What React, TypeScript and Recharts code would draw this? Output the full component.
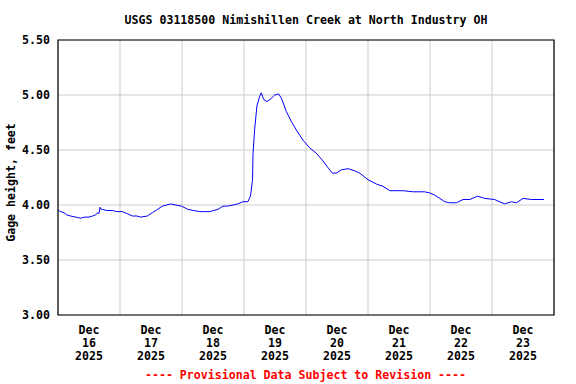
import React from 'react'
import { LineChart, Line, XAxis, YAxis, CartesianGrid, ReferenceArea } from 'recharts'

// hours since Dec 16 2025 00:00, gage height in feet
const hours = [
  0.2, 1.0, 2.3, 3.4, 4.9, 6.9, 8.8, 10.3, 12.0, 13.4, 14.6, 15.3, 15.8, 16.3, 16.7,
  17.2, 18.9, 21.1, 22.7, 24.9, 26.9, 28.8, 30.5, 32.0, 34.6, 36.5, 38.5, 40.4,
  42.1, 43.6, 45.6, 47.8, 50.3, 52.5, 54.9, 56.8, 58.7, 60.3, 61.9, 63.9, 65.7,
  67.7, 69.6, 71.6, 73.5, 74.5, 75.3, 75.5, 76.1, 77.0, 78.1, 78.7, 79.6, 80.9,
  82.6, 83.9, 85.4, 86.5, 88.4, 90.3, 92.3, 94.8, 97.4, 100.0, 102.6, 104.5,
  106.2, 107.8, 109.7, 112.3, 114.9, 116.8, 120.0, 123.3, 125.8, 128.4, 133.6,
  137.4, 141.9, 143.9, 145.8, 147.8, 149.7, 151.6, 154.2, 156.8, 159.4, 162.4,
  165.2, 169.0, 172.9, 175.5, 177.5, 180.0, 183.3, 185.8, 188.1,
]
const gage = [
  3.95, 3.94, 3.93, 3.91, 3.9, 3.89, 3.88, 3.89, 3.89, 3.9, 3.91, 3.93, 3.92, 3.98, 3.96,
  3.96, 3.95, 3.95, 3.94, 3.94, 3.92, 3.9, 3.9, 3.89, 3.9, 3.93, 3.96, 3.99,
  4.0, 4.01, 4.0, 3.99, 3.96, 3.95, 3.94, 3.94, 3.94, 3.95, 3.96, 3.99, 3.99,
  4.0, 4.01, 4.03, 4.03, 4.08, 4.23, 4.47, 4.68, 4.9, 4.99, 5.02, 4.96, 4.94,
  4.97, 5.0, 5.01, 4.97, 4.85, 4.76, 4.68, 4.59, 4.52, 4.47, 4.4, 4.34,
  4.29, 4.29, 4.32, 4.33, 4.31, 4.29, 4.23, 4.19, 4.17, 4.13, 4.13,
  4.12, 4.12, 4.11, 4.09, 4.06, 4.03, 4.02, 4.02, 4.05, 4.05, 4.08,
  4.06, 4.05, 4.01, 4.03, 4.02, 4.06, 4.05, 4.05, 4.05,
]

const dayLabels = ['16', '17', '18', '19', '20', '21', '22', '23']
const midnightTicks = [0, 24, 48, 72, 96, 120, 144, 168, 192]
const noonTicks = [12, 36, 60, 84, 108, 132, 156, 180]
const yTicks = [3.0, 3.5, 4.0, 4.5, 5.0, 5.5]

const data = hours.map((h, i) => ({ h, gage: gage[i] }))

const font = '"DejaVu Sans Mono", monospace'

function DayTick({ x, y, index }: any) {
  return (
    <text x={x} textAnchor="middle" fontFamily={font} fontWeight="bold" fontSize={11.6} fill="#000">
      <tspan x={x} y={y - 19}>Dec</tspan>
      <tspan x={x} y={y - 6}>{dayLabels[index]}</tspan>
      <tspan x={x} y={y + 7}>2025</tspan>
    </text>
  )
}

function YLabel({ viewBox }: any) {
  const cy = viewBox.y + viewBox.height / 2 + 5
  return (
    <text
      x={15}
      y={cy}
      transform={`rotate(-90, 15, ${cy})`}
      textAnchor="middle"
      fontFamily={font}
      fontWeight="bold"
      fontSize={11.6}
      fill="#000"
    >
      Gage height, feet
    </text>
  )
}

export default function App() {
  return (
    <div style={{ position: 'absolute', left: 0, top: 0, width: 576, height: 384, background: '#fff' }}>
      <LineChart width={576} height={384} data={data} margin={{ top: 40, right: 22, bottom: 0, left: 0 }}>
        <CartesianGrid xAxisId="days" stroke="#cccccc" strokeWidth={1} />
        <XAxis xAxisId="days" type="number" dataKey="h" domain={[0, 192]} ticks={midnightTicks} hide />
        <XAxis
          xAxisId="noon"
          type="number"
          dataKey="h"
          domain={[0, 192]}
          ticks={noonTicks}
          interval={0}
          tick={<DayTick />}
          tickLine={false}
          axisLine={false}
          height={69}
        />
        <YAxis
          domain={[3, 5.5]}
          ticks={yTicks}
          interval={0}
          width={58}
          tickLine={false}
          axisLine={false}
          tickFormatter={(v: number) => v.toFixed(2)}
          tick={{ fill: '#000', fontFamily: font, fontWeight: 'bold', fontSize: 11.6 }}
          label={{ content: <YLabel /> }}
        />
        <ReferenceArea
          xAxisId="noon"
          x1={0}
          x2={192}
          y1={3}
          y2={5.5}
          fill="none"
          fillOpacity={0}
          stroke="#000"
          strokeWidth={1.2}
          ifOverflow="visible"
        />
        <Line
          xAxisId="noon"
          type="linear"
          dataKey="gage"
          stroke="#0000ff"
          strokeWidth={1}
          dot={false}
          isAnimationActive={false}
        />
      </LineChart>
      <svg
        width={576}
        height={384}
        style={{ position: 'absolute', left: 0, top: 0, pointerEvents: 'none' }}
      >
        <text x={306} y={24} textAnchor="middle" fontFamily={font} fontWeight="bold" fontSize={11.6} fill="#000">
          USGS 03118500 Nimishillen Creek at North Industry OH
        </text>
        <text x={305.5} y={379} textAnchor="middle" fontFamily={font} fontWeight="bold" fontSize={11.6} fill="#ff0000">
          ---- Provisional Data Subject to Revision ----
        </text>
      </svg>
    </div>
  )
}
